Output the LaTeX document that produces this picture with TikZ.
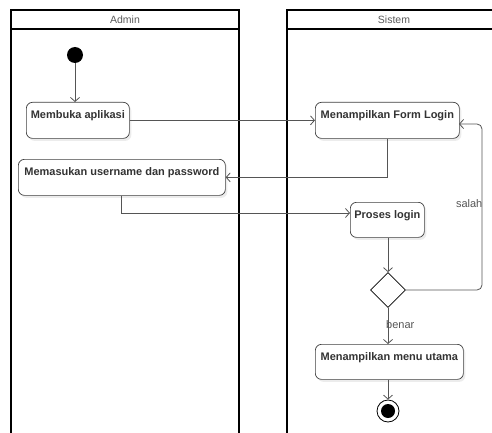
\documentclass[tikz,border=0pt]{standalone}
\usepackage{fontspec}
\setmainfont{Liberation Sans}
\usetikzlibrary{arrows.meta,shapes.geometric,shadows,calc}
\definecolor{edgec}{HTML}{555555}
\definecolor{textc}{HTML}{333333}
\tikzset{
  lane/.style={draw=black, line width=1.1pt},
  lanetitle/.style={text=black!65, font=\fontsize{10.5}{12}\selectfont},
  actbox/.style={draw=black!75, line width=0.7pt, rounded corners=6pt, fill=white,
    anchor=north west, inner xsep=0pt, inner ysep=0pt, text height=16pt,
    font=\bfseries\fontsize{11}{13}\selectfont, text=textc,
    drop shadow={shadow xshift=2pt, shadow yshift=-2.5pt, fill=black!12, opacity=0.6}},
  flow/.style={draw=edgec, line width=0.8pt, -{Straight Barb[length=4pt,width=9pt]}},
  guard/.style={text=edgec, font=\fontsize{11}{12}\selectfont, inner sep=0pt},
}
\begin{document}
\begin{tikzpicture}[x=1pt,y=-1pt]
\useasboundingbox (0,0) rectangle (492,433);
\begin{scope}
\clip (0,0) rectangle (492,433);
% lanes
\draw[lane] (11,448) -- (11,10) -- (239,10) -- (239,448);
\draw[lane] (11,29) -- (239,29);
\draw[lane] (287,448) -- (287,10) -- (500,10);
\draw[lane] (287,29) -- (500,29);
\end{scope}
\node[lanetitle] (tadmin) at (125,20) {Admin};
\node[lanetitle] (tsistem) at (394,20) {Sistem};

% start
\node[circle, fill=black, minimum size=16pt, inner sep=0pt] (start) at (75,55) {};

% activities
\node[actbox, minimum width=103pt, minimum height=36pt, text depth=20pt] (membuka) at (26,102) {Membuka aplikasi};
\node[actbox, minimum width=207pt, minimum height=36pt, text depth=20pt] (memasukan) at (18,159) {Memasukan username dan password};
\node[actbox, minimum width=144pt, minimum height=36pt, text depth=20pt] (form) at (315,102) {Menampilkan Form Login};
\node[actbox, minimum width=74pt, minimum height=35pt, text depth=19pt] (proses) at (350,202) {Proses login};
\node[actbox, minimum width=148pt, minimum height=35pt, text depth=19pt] (menu) at (315,344) {Menampilkan menu utama};

% decision
\node[diamond, draw=black, line width=0.7pt, fill=white, minimum width=35pt, minimum height=35pt, inner sep=0pt] (dec) at (388,290) {};

% end
\node[circle, draw=black, line width=0.8pt, fill=white, minimum size=22pt, inner sep=0pt] (endo) at (388,411) {};
\node[circle, fill=black, minimum size=14pt, inner sep=0pt] (endi) at (388,411) {};

% flows
\draw[flow] (start) -- (start |- membuka.north);
\draw[flow] (membuka.east) -- (form.west);
\draw[flow] (form.south) |- (memasukan.east);
\coordinate (pin) at (350,213);
\draw[flow] (memasukan.south) |- (pin);
\draw[flow] (proses.south -| dec) -- (dec.north);
\coordinate (fin) at (459,124);
\coordinate (rt) at (482,290);
\draw[flow, rounded corners=5pt] (dec.east) -- (rt) |- (fin);
\draw[flow] (dec.south) -- (dec |- menu.north);
\draw[flow] (menu.south -| endo) -- (endo.north);

% guards
\node[guard, anchor=east] (lsalah) at (482.5,204) {salah};
\node[guard, anchor=west] (lbenar) at (386,325) {benar};
\end{tikzpicture}
\end{document}
